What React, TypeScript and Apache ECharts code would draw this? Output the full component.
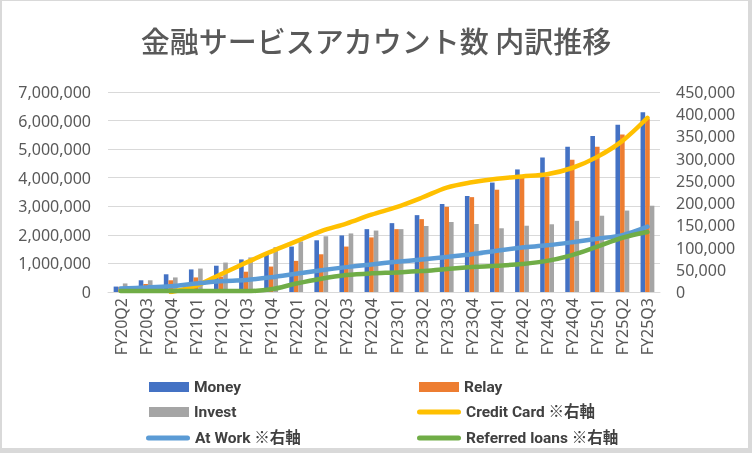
import React, { useEffect, useRef } from "react";
import * as echarts from "echarts";

const categories = [
  "FY20Q2", "FY20Q3", "FY20Q4", "FY21Q1", "FY21Q2", "FY21Q3", "FY21Q4",
  "FY22Q1", "FY22Q2", "FY22Q3", "FY22Q4", "FY23Q1", "FY23Q2", "FY23Q3",
  "FY23Q4", "FY24Q1", "FY24Q2", "FY24Q3", "FY24Q4", "FY25Q1", "FY25Q2", "FY25Q3",
];

const money = [190000, 410000, 620000, 790000, 920000, 1140000, 1390000, 1590000, 1810000, 1980000, 2200000, 2410000, 2690000, 3080000, 3360000, 3830000, 4290000, 4710000, 5080000, 5460000, 5850000, 6290000];
const relay = [180000, 280000, 410000, 510000, 540000, 710000, 890000, 1090000, 1320000, 1590000, 1910000, 2200000, 2550000, 2980000, 3320000, 3580000, 3990000, 4040000, 4630000, 5080000, 5510000, 6060000];
const invest = [300000, 410000, 510000, 820000, 1030000, 1210000, 1570000, 1770000, 1950000, 2050000, 2150000, 2200000, 2310000, 2450000, 2380000, 2230000, 2320000, 2370000, 2490000, 2670000, 2850000, 3020000];
const creditCard = [null, null, 0, 14000, 40000, 66000, 91000, 114000, 137000, 154000, 174000, 191000, 212000, 235000, 247000, 255000, 260000, 265000, 279000, 304000, 340000, 392000];
const atWork = [8000, 10000, 13000, 19000, 24000, 27000, 33000, 41000, 49000, 56000, 62000, 68000, 73000, 79000, 85000, 93000, 100000, 105000, 112000, 120000, 128000, 147000];
const referred = [2000, 2000, 2000, 2000, 2000, 2000, 6000, 19000, 30000, 38000, 42000, 44000, 47000, 52000, 56000, 59000, 63000, 70000, 83000, 102000, 122000, 135000];

const leftTicks = { min: 0, max: 7000000, interval: 1000000 };
const rightTicks = { min: 0, max: 450000, interval: 50000 };

const TITLE = "金融サービスアカウント数 内訳推移";
const NAMES = ["Money", "Relay", "Invest", "Credit Card ※右軸", "At Work ※右軸", "Referred loans ※右軸"];
const COLORS = ["#4472C4", "#ED7D31", "#A5A5A5", "#FFC000", "#5B9BD5", "#70AD47"];

const fmt = (v: number) => v.toLocaleString("en-US");

export default function App() {
  const ref = useRef<HTMLDivElement>(null);
  useEffect(() => {
    if (!ref.current) return;
    const chart = echarts.init(ref.current, null, { renderer: "svg" });
    const axisFont = { fontFamily: "'Noto Sans', sans-serif", fontSize: 16, color: "#595959" };
    const legendText = {
      fontFamily: "Roboto, 'Noto Sans CJK JP', sans-serif",
      fontWeight: "bold" as const,
      fontSize: 15.5,
      color: "#404040",
      lineHeight: 20,
    };
    const lineIcon = "path://M2.5,0H41.5A2.5,2.5,0,0,1,41.5,5H2.5A2.5,2.5,0,0,1,2.5,0Z";
    const legendPos = [
      { left: 149, top: 377, bar: true },
      { left: 419, top: 377, bar: true },
      { left: 149, top: 402, bar: true },
      { left: 417, top: 402, bar: false },
      { left: 146, top: 428, bar: false },
      { left: 417, top: 428, bar: false },
    ];
    const lineData = [creditCard, atWork, referred];
    const option: any = {
      animation: false,
      backgroundColor: "transparent",
      graphic: [
        { type: "rect", silent: true, z: -20, shape: { x: 0, y: 0, width: 752, height: 453 }, style: { fill: "#d9d9d9" } },
        { type: "rect", silent: true, z: -19, shape: { x: 2, y: 1, width: 746, height: 447 }, style: { fill: "#ffffff" } },
        {
          type: "text",
          x: 376,
          y: 40,
          style: {
            text: TITLE,
            fill: "#595959",
            fontSize: 29,
            fontFamily: "'Noto Sans CJK JP', sans-serif",
            fontWeight: 500,
            align: "center",
            verticalAlign: "middle",
          },
        },
      ],
      grid: { left: 108, right: 92, top: 92, bottom: 161, outerBoundsMode: "none", containLabel: false },
      legend: legendPos.map((p, i) => ({
        data: [NAMES[i]],
        left: p.left,
        top: p.top,
        padding: 0,
        itemWidth: p.bar ? 40 : 44,
        itemHeight: p.bar ? 10 : 5,
        icon: p.bar ? "rect" : lineIcon,
        textStyle: legendText,
        selectedMode: false,
      })),
      xAxis: {
        type: "category",
        data: categories,
        boundaryGap: true,
        axisLine: { show: true, lineStyle: { color: "#d9d9d9", width: 1 } },
        axisTick: { show: false },
        axisLabel: { ...axisFont, rotate: 90, margin: 6, interval: 0 },
        splitLine: { show: false },
      },
      yAxis: [
        {
          type: "value",
          ...leftTicks,
          axisLine: { show: false },
          axisTick: { show: false },
          axisLabel: { ...axisFont, margin: 17, formatter: (v: number) => fmt(v) },
          splitLine: { show: true, lineStyle: { color: "#d9d9d9", width: 1 } },
        },
        {
          type: "value",
          ...rightTicks,
          position: "right",
          axisLine: { show: false },
          axisTick: { show: false },
          axisLabel: { ...axisFont, margin: 16, formatter: (v: number) => fmt(v) },
          splitLine: { show: false },
        },
      ],
      series: [
        ...[money, relay, invest].map((d, i) => ({
          name: NAMES[i],
          type: "bar",
          yAxisIndex: 0,
          data: d,
          barWidth: 4.6,
          barGap: "0%",
          itemStyle: { color: COLORS[i] },
        })),
        ...lineData.map((d, i) => ({
          name: NAMES[i + 3],
          type: "line",
          yAxisIndex: 1,
          data: d,
          smooth: 0.35,
          showSymbol: false,
          symbol: "none",
          connectNulls: false,
          itemStyle: { color: COLORS[i + 3] },
          lineStyle: { color: COLORS[i + 3], width: 4.5, cap: "round", join: "round" },
        })),
      ],
    };
    chart.setOption(option);
    return () => chart.dispose();
  }, []);
  return (
    <div
      ref={ref}
      style={{ position: "fixed", left: 0, top: 0, width: 752, height: 453 }}
    />
  );
}
